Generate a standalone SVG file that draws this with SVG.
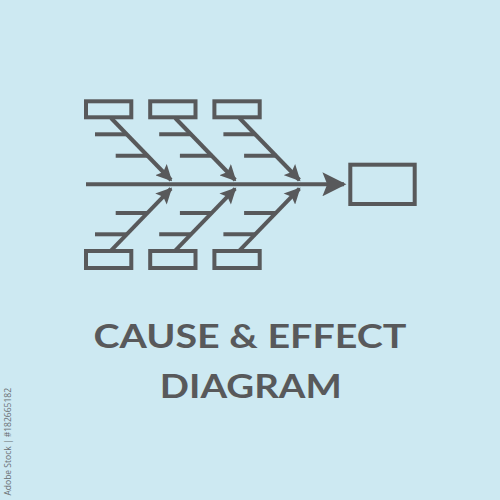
<svg xmlns="http://www.w3.org/2000/svg" width="500" height="500" viewBox="0 0 500 500">
<style>
.s{stroke:#58595b;stroke-width:4;fill:none}
.b{stroke:#58595b;stroke-width:4;fill:none}
.t{font-family:Lato,"Open Sans",sans-serif;font-weight:700;fill:#58595b;text-anchor:middle}
</style>
<defs>
<marker id="ah" viewBox="0 0 10 10" refX="9" refY="5" markerWidth="4.2" markerHeight="4" orient="auto" markerUnits="strokeWidth">
<path d="M0,0 L10,5 L0,10 L2,5 Z" fill="#58595b"/>
</marker>
<marker id="mh" viewBox="0 0 10 10" refX="9" refY="5" markerWidth="7.5" markerHeight="6" orient="auto" markerUnits="strokeWidth">
<path d="M0,0 L10,5 L0,10 L2,5 Z" fill="#58595b"/>
</marker>
</defs>
<rect width="500" height="500" fill="#cde9f2"/>
<g id="connectors">
<line class="s" x1="86" y1="184.3" x2="344" y2="184.3" marker-end="url(#mh)"/>
<g id="bone-t1"><line class="s" x1="111" y1="118" x2="171" y2="180" marker-end="url(#ah)"/><line class="s" x1="95" y1="134.3" x2="127" y2="134.3"/><line class="s" x1="115.7" y1="155.7" x2="148" y2="155.7"/></g>
<g id="bone-t2" transform="translate(64.2,0)"><line class="s" x1="111" y1="118" x2="171" y2="180" marker-end="url(#ah)"/><line class="s" x1="95" y1="134.3" x2="127" y2="134.3"/><line class="s" x1="115.7" y1="155.7" x2="148" y2="155.7"/></g>
<g id="bone-t3" transform="translate(128.4,0)"><line class="s" x1="111" y1="118" x2="171" y2="180" marker-end="url(#ah)"/><line class="s" x1="95" y1="134.3" x2="127" y2="134.3"/><line class="s" x1="115.7" y1="155.7" x2="148" y2="155.7"/></g>
<g transform="translate(0,368.6) scale(1,-1)">
<g id="bone-b1"><line class="s" x1="111" y1="118" x2="171" y2="180" marker-end="url(#ah)"/><line class="s" x1="95" y1="134.3" x2="127" y2="134.3"/><line class="s" x1="115.7" y1="155.7" x2="148" y2="155.7"/></g>
<g id="bone-b2" transform="translate(64.2,0)"><line class="s" x1="111" y1="118" x2="171" y2="180" marker-end="url(#ah)"/><line class="s" x1="95" y1="134.3" x2="127" y2="134.3"/><line class="s" x1="115.7" y1="155.7" x2="148" y2="155.7"/></g>
<g id="bone-b3" transform="translate(128.4,0)"><line class="s" x1="111" y1="118" x2="171" y2="180" marker-end="url(#ah)"/><line class="s" x1="95" y1="134.3" x2="127" y2="134.3"/><line class="s" x1="115.7" y1="155.7" x2="148" y2="155.7"/></g>
</g>
</g>
<g id="cause-t1"><rect class="b" x="86" y="101.3" width="45.3" height="16"/></g>
<g id="cause-t2"><rect class="b" x="150.2" y="101.3" width="45.3" height="16"/></g>
<g id="cause-t3"><rect class="b" x="214.4" y="101.3" width="45.3" height="16"/></g>
<g id="cause-b1"><rect class="b" x="86" y="251" width="45.3" height="17"/></g>
<g id="cause-b2"><rect class="b" x="150.2" y="251" width="45.3" height="17"/></g>
<g id="cause-b3"><rect class="b" x="214.4" y="251" width="45.3" height="17"/></g>
<g id="effect"><rect class="b" x="350.3" y="164.7" width="64.4" height="39.3"/></g>
<g id="title">
<text class="t" x="250" y="348.3" font-size="33" textLength="313" lengthAdjust="spacingAndGlyphs">CAUSE &amp; EFFECT</text>
<text class="t" x="250.8" y="398.3" font-size="33" textLength="182" lengthAdjust="spacingAndGlyphs">DIAGRAM</text>
</g>
<text x="11" y="388" font-family="'Open Sans',sans-serif" font-size="8.5" fill="#6a6f72" text-anchor="end" transform="rotate(-90 11 388)">Adobe Stock | #182665182</text>
</svg>
